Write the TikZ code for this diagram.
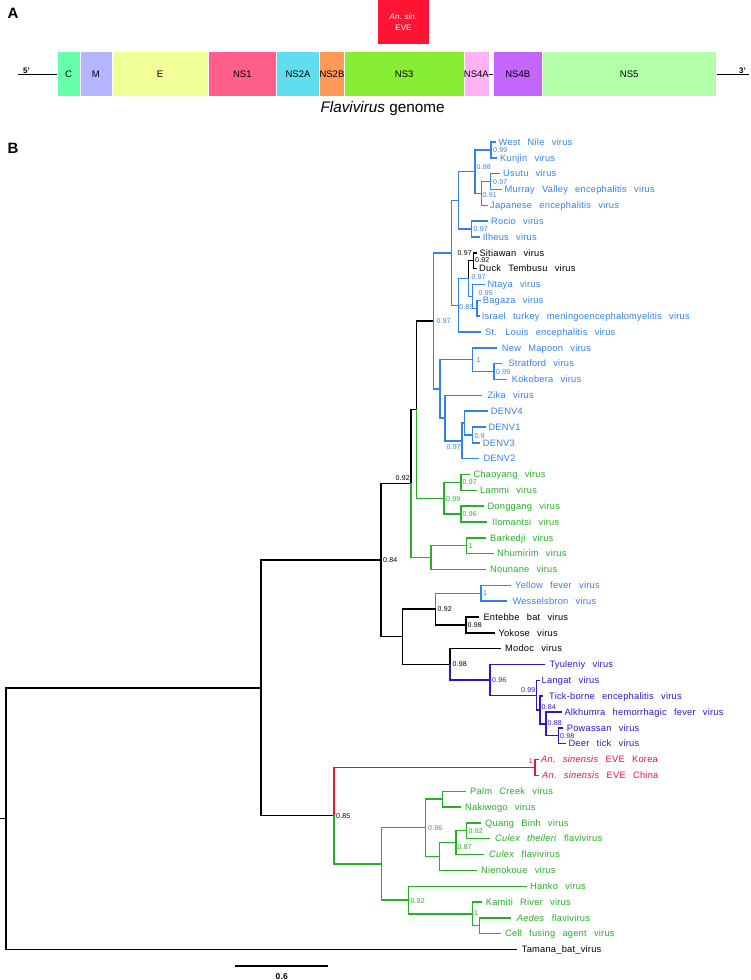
\documentclass[tikz,border=0pt]{standalone}
\usepackage{fontspec}
\setmainfont{Liberation Sans}
\newfontfamily\treefont[LetterSpace=2.5,WordSpace=2.6]{Liberation Sans}
\definecolor{tblue}{RGB}{50,130,235}
\definecolor{tgreen}{RGB}{40,175,40}
\definecolor{tpurp}{RGB}{50,20,200}
\definecolor{tred}{RGB}{232,20,60}
\definecolor{sC}{RGB}{102,255,170}
\definecolor{sM}{RGB}{180,180,255}
\definecolor{sE}{RGB}{240,255,150}
\definecolor{sNSa}{RGB}{255,95,138}
\definecolor{sNSb}{RGB}{96,221,238}
\definecolor{sNSc}{RGB}{255,153,85}
\definecolor{sNSd}{RGB}{136,238,51}
\definecolor{sNSe}{RGB}{255,179,245}
\definecolor{sNSf}{RGB}{194,102,255}
\definecolor{sNSg}{RGB}{179,255,170}
\definecolor{eve}{RGB}{255,20,51}
\newcommand\lf[6]{%
  \coordinate (#1) at (#3,{142+(#2-1)*15.8333});
  \node[lab,text=#5,anchor=base west] (#1t) at (#4,{142+(#2-1)*15.8333+3.3}) {#6};}
\newcommand\br[3]{\draw[tl,#1] (#2) |- (#3);}
\begin{document}
\begin{tikzpicture}[x=1pt,y=-1pt,
  tl/.style={line width=1.35pt,line cap=rect},
  lab/.style={font=\treefont\fontsize{9.3}{10}\selectfont,inner sep=0pt},
  bsl/.style={font=\treefont\fontsize{7}{8}\selectfont,inner sep=0pt},
  seg/.style={minimum height=44.3pt,inner sep=0pt,draw=white,line width=0.5pt,font=\fontsize{9.5}{10}\selectfont},
  panel/.style={font=\bfseries\fontsize{15}{16}\selectfont,inner sep=0pt},
  endlab/.style={font=\bfseries\fontsize{8}{9}\selectfont,inner sep=0pt}]
\fill[white,use as bounding box] (0,0) rectangle (750,980);

% ---------------- Panel A ----------------
\node[panel] (pA) at (13,13.3) {A};
\node[seg,fill=sC,minimum width=22.5pt] (sgC) at (68.65,73.85) {C};
\node[seg,fill=sM,minimum width=32pt] (sgM) at (95.9,73.85) {M};
\node[seg,fill=sE,minimum width=96.2pt] (sgE) at (160,73.85) {E};
\node[seg,fill=sNSa,minimum width=68.4pt] (sgNS1) at (242.3,73.85) {NS1};
\node[seg,fill=sNSb,minimum width=43pt] (sgNS2A) at (298,73.85) {NS2A};
\node[seg,fill=sNSc,minimum width=24.9pt] (sgNS2B) at (331.95,73.85) {NS2B};
\node[seg,fill=sNSd,minimum width=119.6pt] (sgNS3) at (404.2,73.85) {NS3};
\node[seg,fill=sNSe,minimum width=24.8pt] (sgNS4A) at (476.4,73.85) {NS4A};
\node[seg,fill=sNSf,minimum width=48.3pt] (sgNS4B) at (517.75,73.85) {NS4B};
\node[seg,fill=sNSg,minimum width=174.6pt] (sgNS5) at (629.2,73.85) {NS5};
\coordinate (g5) at (18.2,74.5);
\coordinate (g3) at (748.6,74.5);
\draw[line width=1.3pt] (g5) -- (sgC.west|-g5);
\draw[line width=1.3pt] (sgNS5.east|-g3) -- (g3);
\draw[line width=1.3pt] (sgNS4A.east|-g5) -- (sgNS4B.west|-g5);
\node[endlab,anchor=base west] (t5) at (23,73) {5'};
\node[endlab,anchor=base west] (t3) at (739,73) {3'};
\node[fill=eve,minimum width=51.1pt,minimum height=44pt,inner sep=0pt,text=white,align=center,
  font=\fontsize{8}{11.6}\selectfont] (eveb) at (403.45,22) {\textit{An. sin.}\\EVE};
\node[font=\fontsize{15.3}{17}\selectfont,inner sep=0pt] (gen) at (382.6,108.3) {\textit{Flavivirus} genome};

% ---------------- Panel B ----------------
\node[panel] (pB) at (13,148.7) {B};

% leaves
\lf{l1}{1}{495}{498.5}{tblue}{West Nile virus}
\lf{l2}{2}{496}{500}{tblue}{Kunjin virus}
\lf{l3}{3}{499}{503}{tblue}{Usutu virus}
\lf{l4}{4}{501}{504.5}{tblue}{Murray Valley encephalitis virus}
\lf{l5}{5}{487}{490}{tblue}{Japanese encephalitis virus}
\lf{l6}{6}{487.3}{491}{tblue}{Rocio virus}
\lf{l7}{7}{479}{482.7}{tblue}{Ilheus virus}
\lf{l8}{8}{476}{479.3}{black}{Sitiawan virus}
\lf{l9}{9}{476}{479}{black}{Duck Tembusu virus}
\lf{l10}{10}{484}{487.3}{tblue}{Ntaya virus}
\lf{l11}{11}{480}{482.7}{tblue}{Bagaza virus}
\lf{l12}{12}{479}{481.7}{tblue}{Israel turkey meningoencephalomyelitis virus}
\lf{l13}{13}{480}{485}{tblue}{St. Louis encephalitis virus}
\lf{l14}{14}{496.7}{501.7}{tblue}{New Mapoon virus}
\lf{l15}{15}{501.7}{508.3}{tblue}{Stratford virus}
\lf{l16}{16}{506}{511.7}{tblue}{Kokobera virus}
\lf{l17}{17}{481.7}{487.3}{tblue}{Zika virus}
\lf{l18}{18}{487.3}{490.7}{tblue}{DENV4}
\lf{l19}{19}{485}{488.3}{tblue}{DENV1}
\lf{l20}{20}{479}{482.7}{tblue}{DENV3}
\lf{l21}{21}{478.3}{483.3}{tblue}{DENV2}
\lf{l22}{22}{469.3}{473.3}{tgreen}{Chaoyang virus}
\lf{l23}{23}{476}{480}{tgreen}{Lammi virus}
\lf{l24}{24}{483.3}{487.3}{tgreen}{Donggang virus}
\lf{l25}{25}{486.7}{492}{tgreen}{Ilomantsi virus}
\lf{l26}{26}{485}{490}{tgreen}{Barkedji virus}
\lf{l27}{27}{493.3}{497}{tgreen}{Nhumirim virus}
\lf{l28}{28}{485}{490}{tgreen}{Nounane virus}
\lf{l29}{29}{510}{515}{tblue}{Yellow fever virus}
\lf{l30}{30}{506.7}{512.3}{tblue}{Wesselsbron virus}
\lf{l31}{31}{478.3}{483.3}{black}{Entebbe bat virus}
\lf{l32}{32}{494}{498.3}{black}{Yokose virus}
\lf{l33}{33}{500}{505}{black}{Modoc virus}
\lf{l34}{34}{544}{549.3}{tpurp}{Tyuleniy virus}
\lf{l35}{35}{539.3}{541.5}{tpurp}{Langat virus}
\lf{l36}{36}{542.7}{549}{tpurp}{Tick-borne encephalitis virus}
\lf{l37}{37}{561}{564.3}{tpurp}{Alkhumra hemorrhagic fever virus}
\lf{l38}{38}{562}{566.7}{tpurp}{Powassan virus}
\lf{l39}{39}{565}{568.3}{tpurp}{Deer tick virus}
\lf{l40}{40}{538}{541}{tred}{\textit{An.\ sinensis} EVE Korea}
\lf{l41}{41}{538}{542}{tred}{\textit{An.\ sinensis} EVE China}
\lf{l42}{42}{465}{470}{tgreen}{Palm Creek virus}
\lf{l43}{43}{460}{465}{tgreen}{Nakiwogo virus}
\lf{l44}{44}{480}{485}{tgreen}{Quang Binh virus}
\lf{l45}{45}{489}{495}{tgreen}{\textit{Culex theileri} flavivirus}
\lf{l46}{46}{483.3}{489}{tgreen}{\textit{Culex} flavivirus}
\lf{l47}{47}{476}{481}{tgreen}{Nienokoue virus}
\lf{l48}{48}{526}{530}{tgreen}{Hanko virus}
\lf{l49}{49}{481.7}{485.7}{tgreen}{Kamiti River virus}
\lf{l50}{50}{510.7}{516.7}{tgreen}{\textit{Aedes} flavivirus}
\lf{l51}{51}{500}{505}{tgreen}{Cell fusing agent virus}
\lf{l52}{52}{516.7}{521.7}{black}{Tamana\_bat\_virus}

% internal nodes
\coordinate (R0) at (6,818.7);
\coordinate (stub) at (0,818.7);
\coordinate (N1) at (261,687.9);
\coordinate (N084) at (381,560.13);
\coordinate (A) at (411,483.6);
\coordinate (B) at (416.7,409.56);
\coordinate (C) at (433.3,320.87);
\coordinate (H) at (451.7,252.83);
\coordinate (G) at (458.3,200.39);
\coordinate (D) at (475,171.69);
\coordinate (WK) at (491,149.92);
\coordinate (F) at (481.7,193.46);
\coordinate (E) at (490.5,181.58);
\coordinate (RI) at (471.7,229.08);
\coordinate (I) at (458.3,305.28);
\coordinate (J) at (468.3,278.56);
\coordinate (K) at (473.3,260.75);
\coordinate (L) at (472.5,296.38);
\coordinate (N) at (477,308.25);
\coordinate (O) at (440,388.9);
\coordinate (P) at (472.3,359.71);
\coordinate (R) at (494,371.58);
\coordinate (Q) at (445,418.09);
\coordinate (S) at (462,440.85);
\coordinate (S2) at (464.3,423.04);
\coordinate (T) at (472.7,434.92);
\coordinate (U) at (444,498.25);
\coordinate (V) at (461,482.42);
\coordinate (W) at (461,514.08);
\coordinate (X) at (431,557.63);
\coordinate (Y) at (466.7,545.75);
\coordinate (Z) at (402.3,636.67);
\coordinate (AA) at (435.7,609.08);
\coordinate (AC) at (481,593.25);
\coordinate (AD) at (466,624.92);
\coordinate (AB) at (450,664.25);
\coordinate (AE) at (490,679.84);
\coordinate (AF) at (536.7,695.18);
\coordinate (AG) at (540,710.02);
\coordinate (AH) at (546,723.88);
\coordinate (AI) at (558.3,735.75);
\coordinate (N085) at (334,815.66);
\coordinate (RN) at (535,767.42);
\coordinate (GN) at (381.7,863.9);
\coordinate (AJ) at (425.7,827.78);
\coordinate (AL) at (442.7,799.08);
\coordinate (AM) at (439.3,856.48);
\coordinate (AN) at (456,842.63);
\coordinate (AO) at (466.7,830.75);
\coordinate (AK) at (408.3,900.02);
\coordinate (AP) at (472.7,913.88);
\coordinate (AQ) at (479.3,925.75);

% branches
\draw[tl] (stub) -- (R0);
\br{black}{R0}{N1} \br{black}{R0}{l52}
\br{black}{N1}{N084} \br{black}{N1}{N085}
\br{black}{N084}{A} \br{black}{N084}{Z}
\br{black}{A}{B} \br{tgreen}{A}{X}
\br{black}{B}{C} \br{tgreen}{B}{U}
\br{tblue}{C}{H} \br{tblue}{C}{O}
\br{tblue}{H}{G} \br{tblue}{H}{I}
\br{tblue}{G}{D} \br{tblue}{G}{RI}
\br{tblue}{D}{WK} \br{tblue}{D}{F}
\br{tblue}{WK}{l1} \br{tblue}{WK}{l2}
\br{tblue}{F}{E} \br{tblue}{F}{l5}
\br{tblue}{E}{l3} \br{tblue}{E}{l4}
\br{tblue}{RI}{l6} \br{tblue}{RI}{l7}
\br{tblue}{I}{J} \br{tblue}{I}{l13}
\br{black}{J}{K} \br{tblue}{J}{L}
\br{black}{K}{l8} \br{black}{K}{l9}
\br{tblue}{L}{l10} \br{tblue}{L}{N}
\br{tblue}{N}{l11} \br{tblue}{N}{l12}
\br{tblue}{O}{P} \br{tblue}{O}{Q}
\br{tblue}{P}{l14} \br{tblue}{P}{R}
\br{tblue}{R}{l15} \br{tblue}{R}{l16}
\br{tblue}{Q}{l17} \br{tblue}{Q}{S}
\br{tblue}{S}{S2} \br{tblue}{S}{l21}
\br{tblue}{S2}{l18} \br{tblue}{S2}{T}
\br{tblue}{T}{l19} \br{tblue}{T}{l20}
\br{tgreen}{U}{V} \br{tgreen}{U}{W}
\br{tgreen}{V}{l22} \br{tgreen}{V}{l23}
\br{tgreen}{W}{l24} \br{tgreen}{W}{l25}
\br{tgreen}{X}{Y} \br{tgreen}{X}{l28}
\br{tgreen}{Y}{l26} \br{tgreen}{Y}{l27}
\br{black}{Z}{AA} \br{black}{Z}{AB}
\br{tblue}{AA}{AC} \br{black}{AA}{AD}
\br{tblue}{AC}{l29} \br{tblue}{AC}{l30}
\br{black}{AD}{l31} \br{black}{AD}{l32}
\br{black}{AB}{l33} \br{tpurp}{AB}{AE}
\br{tpurp}{AE}{l34} \br{tpurp}{AE}{AF}
\br{tpurp}{AF}{l35} \br{tpurp}{AF}{AG}
\br{tpurp}{AG}{l36} \br{tpurp}{AG}{AH}
\br{tpurp}{AH}{l37} \br{tpurp}{AH}{AI}
\br{tpurp}{AI}{l38} \br{tpurp}{AI}{l39}
\br{tred}{N085}{RN} \br{tgreen}{N085}{GN}
\br{tred}{RN}{l40} \br{tred}{RN}{l41}
\br{tgreen}{GN}{AJ} \br{tgreen}{GN}{AK}
\br{tgreen}{AJ}{AL} \br{tgreen}{AJ}{AM}
\br{tgreen}{AL}{l42} \br{tgreen}{AL}{l43}
\br{tgreen}{AM}{AN} \br{tgreen}{AM}{l47}
\br{tgreen}{AN}{AO} \br{tgreen}{AN}{l46}
\br{tgreen}{AO}{l44} \br{tgreen}{AO}{l45}
\br{tgreen}{AK}{l48} \br{tgreen}{AK}{AP}
\br{tgreen}{AP}{l49} \br{tgreen}{AP}{AQ}
\br{tgreen}{AQ}{l50} \br{tgreen}{AQ}{l51}

% support values
\node[bsl,text=tblue,anchor=west] (bWK) at (493,150) {0.99};
\node[bsl,text=tblue,anchor=west] (bD) at (476.5,167.5) {0.98};
\node[bsl,text=tblue,anchor=west] (bE) at (493,182) {0.97};
\node[bsl,text=tblue,anchor=west] (bF) at (482.5,195.5) {0.91};
\node[bsl,text=tblue,anchor=west] (bRI) at (473.5,229.5) {0.97};
\node[bsl,text=black,anchor=east] (bJ) at (472,253) {0.97};
\node[bsl,text=black,anchor=west] (bK) at (475,260.5) {0.92};
\node[bsl,text=tblue,anchor=west] (bL) at (471.5,277.5) {0.97};
\node[bsl,text=tblue,anchor=west] (bN) at (478.5,293) {0.95};
\node[bsl,text=tblue,anchor=west] (bI) at (459,307) {0.85};
\node[bsl,text=tblue,anchor=west] (bC) at (436.5,321.5) {0.97};
\node[bsl,text=tblue,anchor=west] (bP) at (476.5,360) {1};
\node[bsl,text=tblue,anchor=west] (bR) at (496,372) {0.99};
\node[bsl,text=tblue,anchor=west] (bT) at (474.5,436) {0.9};
\node[bsl,text=tblue,anchor=east] (bS) at (461,447) {0.97};
\node[bsl,text=black,anchor=south east] (bA) at (410,481) {0.92};
\node[bsl,text=tgreen,anchor=west] (bV) at (462.5,482.5) {0.97};
\node[bsl,text=tgreen,anchor=west] (bU) at (446,499) {0.99};
\node[bsl,text=tgreen,anchor=west] (bW) at (462.5,514) {0.96};
\node[bsl,text=tgreen,anchor=west] (bY) at (468.5,546) {1};
\node[bsl,text=black,anchor=west] (b084) at (383,560.5) {0.84};
\node[bsl,text=tblue,anchor=west] (bAC) at (483,593.5) {1};
\node[bsl,text=black,anchor=west] (bAA) at (437.5,609.5) {0.92};
\node[bsl,text=black,anchor=west] (bAD) at (467.5,625) {0.98};
\node[bsl,text=black,anchor=west] (bAB) at (452.5,664.5) {0.98};
\node[bsl,text=tpurp,anchor=west] (bAE) at (492,680) {0.96};
\node[bsl,text=tpurp,anchor=south east] (bAF) at (535.5,693) {0.99};
\node[bsl,text=tpurp,anchor=west] (bAG) at (541.5,707) {0.84};
\node[bsl,text=tpurp,anchor=west] (bAH) at (547.5,723) {0.88};
\node[bsl,text=tpurp,anchor=west] (bAI) at (560,736) {0.98};
\node[bsl,text=tred,anchor=east] (bRN) at (533,761) {1};
\node[bsl,text=black,anchor=west] (b085) at (336,816) {0.85};
\node[bsl,text=tgreen,anchor=west] (bAJ) at (428,828.5) {0.96};
\node[bsl,text=tgreen,anchor=west] (bAO) at (468.5,831) {0.92};
\node[bsl,text=tgreen,anchor=west] (bAN) at (457.5,847) {0.87};
\node[bsl,text=tgreen,anchor=west] (bAK) at (410.5,901) {0.92};
\node[bsl,text=tgreen,anchor=west] (bAP) at (474,913) {1};

% scale bar
\coordinate (sb1) at (235,966);
\coordinate (sb2) at (328,966);
\draw[line width=1.35pt] (sb1) -- (sb2);
\node[bsl,font=\treefont\bfseries\fontsize{8.5}{9}\selectfont] (sbl) at (281.7,977) {0.6};
\end{tikzpicture}
\end{document}
